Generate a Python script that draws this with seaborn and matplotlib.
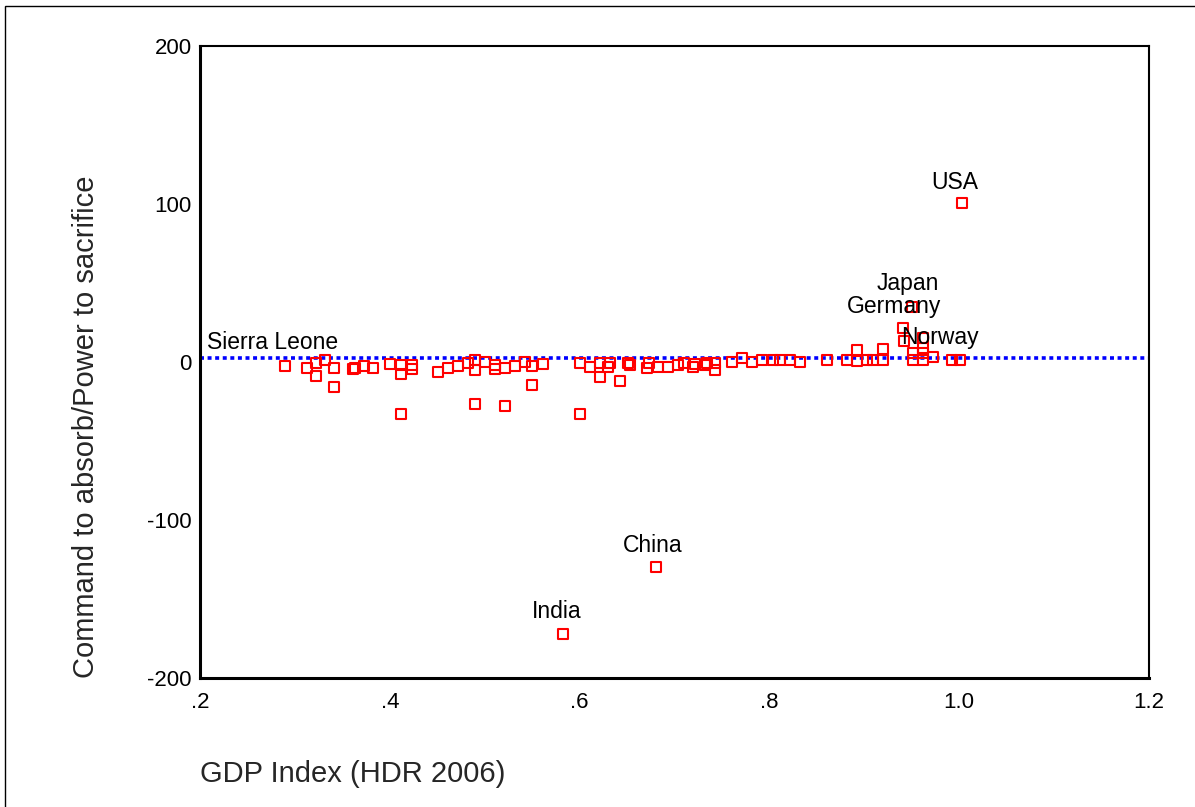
import matplotlib
matplotlib.use("Agg")
import matplotlib.pyplot as plt
import seaborn as sns
import pandas as pd
from matplotlib.patches import Rectangle

# Labelled countries
named_countries = ["Sierra Leone", "India", "China", "Germany", "Japan", "Norway", "USA"]
named_gdp = [0.290, 0.582, 0.681, 0.941, 0.950, 0.992, 1.003]
named_value = [-2.5, -172.0, -130.0, 21.5, 34.8, 1.3, 100.6]

# Remaining countries (unlabelled)
other_gdp = [0.313, 0.322, 0.322, 0.332, 0.341, 0.341, 0.361, 0.363, 0.373, 0.382,
             0.400, 0.412, 0.412, 0.412, 0.423, 0.423, 0.451, 0.461, 0.472, 0.482,
             0.490, 0.490, 0.490, 0.500, 0.511, 0.511, 0.521, 0.521, 0.532, 0.542,
             0.550, 0.550, 0.561, 0.600, 0.600, 0.611, 0.621, 0.621, 0.630, 0.632,
             0.643, 0.651, 0.653, 0.671, 0.673, 0.683, 0.693, 0.704, 0.710, 0.720,
             0.722, 0.732, 0.734, 0.743, 0.743, 0.761, 0.771, 0.782, 0.792, 0.804,
             0.811, 0.822, 0.832, 0.861, 0.882, 0.892, 0.892, 0.903, 0.909, 0.920,
             0.920, 0.942, 0.951, 0.951, 0.962, 0.962, 0.962, 0.962, 0.972, 1.001]
other_value = [-3.8, -0.6, -8.9, 1.3, -3.8, -15.8, -4.4, -3.8, -2.5, -3.8,
               -1.3, -1.9, -7.6, -32.9, -1.9, -4.4, -6.3, -3.8, -2.5, -0.6,
               1.3, -5.1, -26.6, 0.0, -1.9, -4.4, -3.8, -27.8, -2.5, 0.0,
               -2.5, -14.6, -1.3, -0.6, -33.0, -3.2, -0.6, -9.5, -3.2, -0.6,
               -12.0, -0.6, -1.9, -3.8, -0.5, -3.2, -3.2, -1.9, -0.5, -3.2,
               -1.3, -1.9, -0.5, -5.1, -0.5, 0.0, 2.5, 0.0, 1.3, 1.3,
               1.3, 1.3, 0.0, 1.3, 1.3, 7.6, 0.6, 1.3, 1.3, 8.2,
               1.3, 13.3, 5.7, 1.3, 15.2, 8.9, 5.7, 1.3, 3.2, 1.3]

reference_value = 2.5

x_ticks = [0.2, 0.4, 0.6, 0.8, 1.0, 1.2]
x_tick_labels = [".2", ".4", ".6", ".8", "1.0", "1.2"]
y_ticks = [-200, -100, 0, 100, 200]
y_tick_labels = ["-200", "-100", "0", "100", "200"]

# label offsets in pixels (dx, dy) from the marker
label_offsets = {"Sierra Leone": (-13, 23), "India": (-6, 22), "China": (-4, 22),
                 "Germany": (-9, 22), "Japan": (-4, 24), "Norway": (-12, 22),
                 "USA": (-7, 21)}

df = pd.DataFrame({
    "gdp": named_gdp + other_gdp,
    "value": named_value + other_value,
})

sns.set_style("white")
plt.rcParams["font.family"] = ["Liberation Sans", "DejaVu Sans"]

fig = plt.figure(figsize=(11.95, 8.07), dpi=100)
ax = fig.add_axes([200 / 1195, 1 - 678 / 807, 949 / 1195, 632 / 807])

# outer frame around the whole chart
fig.patches.append(Rectangle((5 / 1195, -0.05), 1.2, 1 - 6 / 807 + 0.05,
                             transform=fig.transFigure, fill=False,
                             edgecolor="black", linewidth=1.0))

ax.axhline(reference_value, color="#0000ff", linewidth=2.6,
           linestyle=(0, (1.1, 1.0)), zorder=1)

sns.scatterplot(data=df, x="gdp", y="value", marker="s", s=52,
                facecolor="none", edgecolor="#ff0000", linewidth=1.5,
                ax=ax, zorder=2)

for name, gx, gy in zip(named_countries, named_gdp, named_value):
    dx, dy = label_offsets[name]
    ax.annotate(name, (gx, gy), xytext=(dx, dy), textcoords="offset pixels",
                ha="center", va="center", fontsize=16.5, color="black")

ax.set_xlim(0.2, 1.2)
ax.set_ylim(-200, 200)
ax.set_xticks(x_ticks)
ax.set_xticklabels(x_tick_labels)
ax.set_yticks(y_ticks)
ax.set_yticklabels(y_tick_labels)
ax.tick_params(axis="both", direction="out", length=4, width=3, labelsize=16,
               colors="black")
ax.tick_params(axis="x", pad=6)
ax.tick_params(axis="y", pad=2)

for side in ["left", "bottom"]:
    ax.spines[side].set_linewidth(2.2)
for side in ["top", "right"]:
    ax.spines[side].set_linewidth(1.5)
for sp in ax.spines.values():
    sp.set_color("black")

ax.set_xlabel("GDP Index (HDR 2006)", fontsize=21, loc="left")
ax.xaxis.set_label_coords(0.0, -0.13)
ax.set_ylabel("Command to absorb/Power to sacrifice", fontsize=21, loc="bottom")
ax.yaxis.set_label_coords(-0.105, 0.0)

fig.savefig("out.png", dpi=100)
